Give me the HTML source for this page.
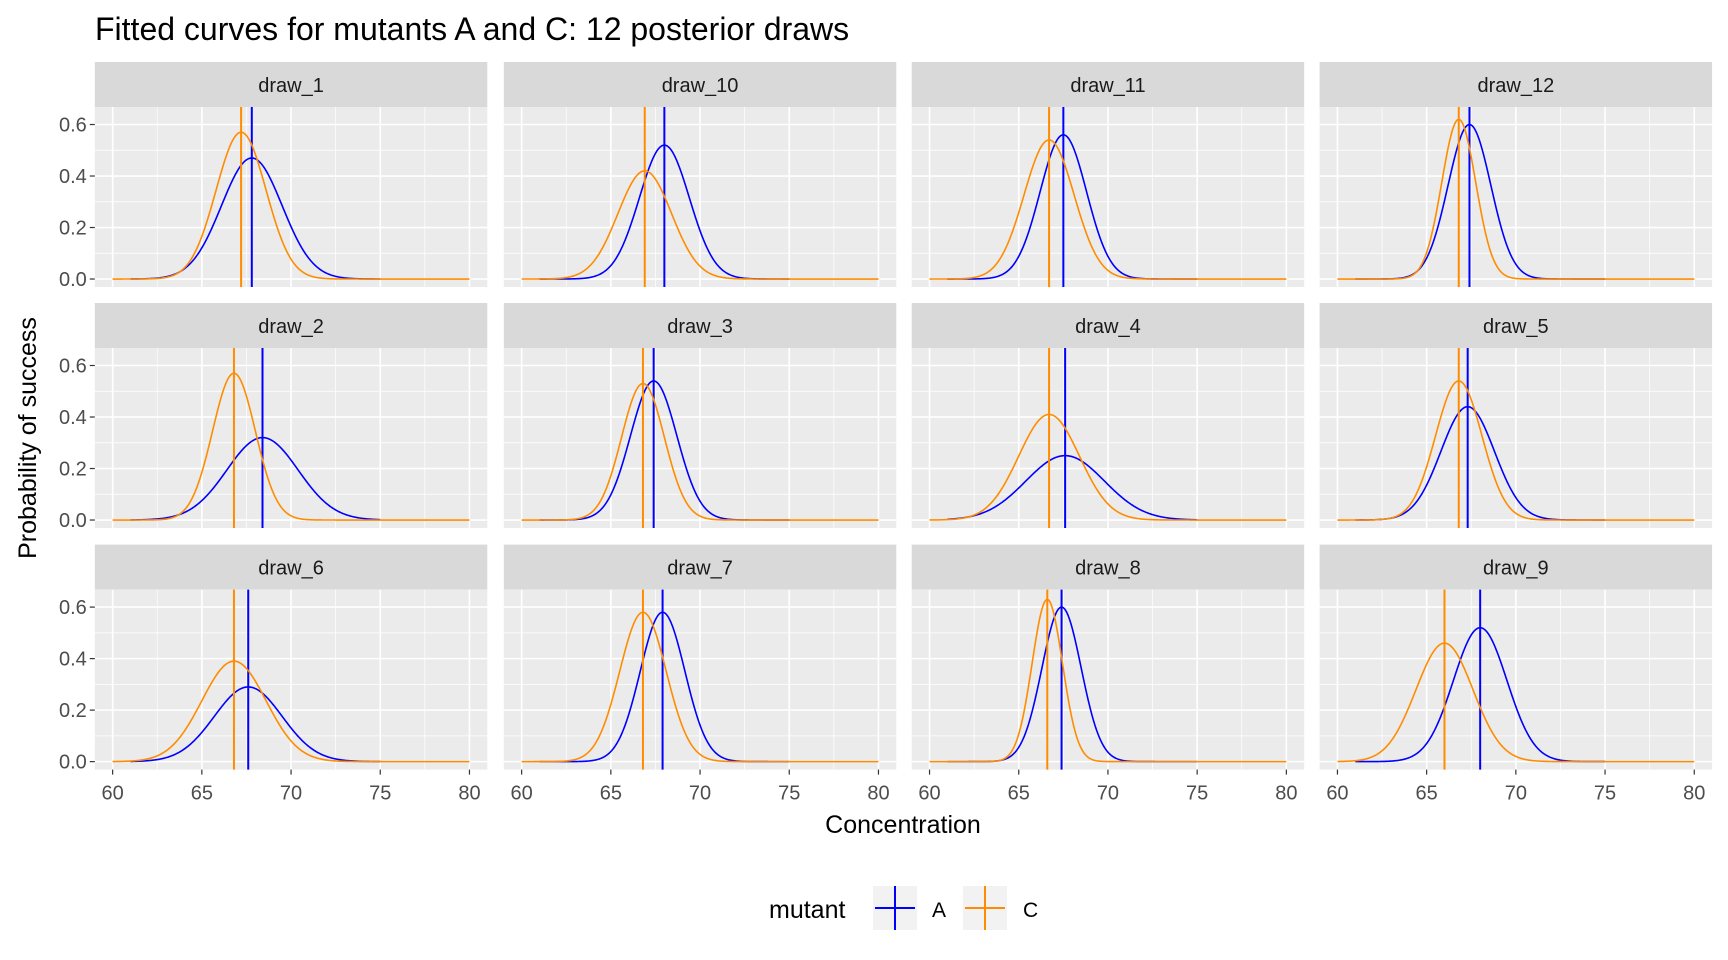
<!DOCTYPE html>
<html><head><meta charset="utf-8">
<style>
body{margin:0;background:#fff;}
svg{display:block;font-family:"Liberation Sans",sans-serif;}
</style></head>
<body>
<svg id="chart" width="1728" height="960" viewBox="0 0 1728 960" xmlns="http://www.w3.org/2000/svg">
<text x="95" y="40" font-size="32" fill="#000">Fitted curves for mutants A and C: 12 posterior draws</text>
<text x="903" y="833" font-size="25" text-anchor="middle" fill="#000">Concentration</text>
<text transform="translate(36,438) rotate(-90)" font-size="25" text-anchor="middle" fill="#000">Probability of success</text>
<g>
<text x="769" y="918" font-size="25" fill="#000">mutant</text>
<g>
<rect x="873" y="886" width="44" height="44" fill="#F2F2F2"/>
<line x1="895" y1="886" x2="895" y2="930" stroke="#0000FF" stroke-width="2"/>
<line x1="875" y1="908" x2="915" y2="908" stroke="#0000FF" stroke-width="2"/>
<text x="932" y="917" font-size="21" fill="#000">A</text>
</g>
<g>
<rect x="963" y="886" width="44" height="44" fill="#F2F2F2"/>
<line x1="985" y1="886" x2="985" y2="930" stroke="#FF8C00" stroke-width="2"/>
<line x1="965" y1="908" x2="1005" y2="908" stroke="#FF8C00" stroke-width="2"/>
<text x="1023" y="917" font-size="21" fill="#000">C</text>
</g>
</g>
<g id="panels"></g>
</svg>
<script>
// Panel order (row-major as in the facet layout)
const drawNames = ["draw_1","draw_10","draw_11","draw_12","draw_2","draw_3","draw_4","draw_5","draw_6","draw_7","draw_8","draw_9"];
// Mutant A curve parameters per draw
const centerA = [67.8,68.0,67.5,67.4,68.4,67.4,67.6,67.3,67.6,67.9,67.4,68.0];
const peakA   = [0.47,0.52,0.56,0.60,0.32,0.54,0.25,0.44,0.29,0.58,0.60,0.52];
const widthA  = [1.7,1.4,1.3,1.2,2.0,1.3,2.2,1.5,1.9,1.25,1.1,1.5];
// Mutant C curve parameters per draw
const centerC = [67.2,66.9,66.7,66.8,66.8,66.8,66.7,66.8,66.8,66.8,66.6,66.0];
const peakC   = [0.57,0.42,0.54,0.62,0.57,0.53,0.41,0.54,0.39,0.58,0.63,0.46];
const widthC  = [1.4,1.5,1.4,0.95,1.2,1.2,1.7,1.3,1.8,1.3,0.85,1.6];
const xTicks = [60,65,70,75,80];
const yTicks = [0,0.2,0.4,0.6];
const yTickLabels = ["0.0","0.2","0.4","0.6"];

const NS="http://www.w3.org/2000/svg";
const root=document.getElementById('panels');
const colX=[94.8,503.8,911.7,1319.6], rowY=[62,303,544.6];
const PW=392.5, SH=45, PH=180;
const XD=[59,81], YD=[-0.031,0.668];
function mk(tag,attrs,parent){const e=document.createElementNS(NS,tag);for(const k in attrs)e.setAttribute(k,attrs[k]);parent.appendChild(e);return e;}

drawNames.forEach((nm,i)=>{
  const r=Math.floor(i/4), c=i%4;
  const L=colX[c], T=rowY[r]+SH;
  const sx=v=>L+(v-XD[0])/(XD[1]-XD[0])*PW;
  const sy=v=>T+PH-(v-YD[0])/(YD[1]-YD[0])*PH;
  const g=mk('g',{},root);
  
  
  const strip=mk('rect',{x:L,y:rowY[r],width:PW,height:SH,fill:'#D9D9D9'},g);
  
  
  const st=mk('text',{x:L+PW/2,y:rowY[r]+30,'font-size':20,'text-anchor':'middle',fill:'#1A1A1A'},g);
  st.textContent=nm;
  
  
  const bg=mk('rect',{x:L,y:T,width:PW,height:PH,fill:'#EBEBEB'},g);
  
  
  for(let k=0;k<4;k++){const v=62.5+5*k;mk('line',{x1:sx(v),x2:sx(v),y1:T,y2:T+PH,stroke:'#fff','stroke-width':0.7},g);}
  for(const v of [0.1,0.3,0.5]){mk('line',{x1:L,x2:L+PW,y1:sy(v),y2:sy(v),stroke:'#fff','stroke-width':0.7},g);}
  xTicks.forEach(v=>mk('line',{x1:sx(v),x2:sx(v),y1:T,y2:T+PH,stroke:'#fff','stroke-width':1.6},g));
  yTicks.forEach(v=>mk('line',{x1:L,x2:L+PW,y1:sy(v),y2:sy(v),stroke:'#fff','stroke-width':1.6},g));
  function curve(mu,h,s,x0,x1,col,name){
    let pts=[];
    for(let x=x0;x<=x1+1e-9;x+=0.05){const y=h*Math.exp(-(x-mu)*(x-mu)/(2*s*s));pts.push(sx(x).toFixed(2)+','+sy(y).toFixed(2));}
    const p=mk('polyline',{points:pts.join(' '),fill:'none',stroke:col,'stroke-width':1.6},g);
    
    
    const v=mk('line',{x1:sx(mu),x2:sx(mu),y1:T,y2:T+PH,stroke:col,'stroke-width':2},g);
    
    
  }
  curve(centerA[i],peakA[i],widthA[i],61,75,'#0000FF','curve-a');
  curve(centerC[i],peakC[i],widthC[i],60,80,'#FF8C00','curve-c');
  if(c===0){
    yTicks.forEach((v,k)=>{
      mk('line',{x1:L-5,x2:L,y1:sy(v),y2:sy(v),stroke:'#333','stroke-width':1.2},g);
      const t=mk('text',{x:L-8,y:sy(v)+7,'font-size':20,'text-anchor':'end',fill:'#4D4D4D'},g);
      t.textContent=yTickLabels[k];
      
      
    });
  }
  if(r===2){
    xTicks.forEach(v=>{
      mk('line',{x1:sx(v),x2:sx(v),y1:T+PH,y2:T+PH+5,stroke:'#333','stroke-width':1.2},g);
      const t=mk('text',{x:sx(v),y:T+PH+30,'font-size':20,'text-anchor':'middle',fill:'#4D4D4D'},g);
      t.textContent=String(v);
      
      
    });
  }
});
</script>
</body></html>
